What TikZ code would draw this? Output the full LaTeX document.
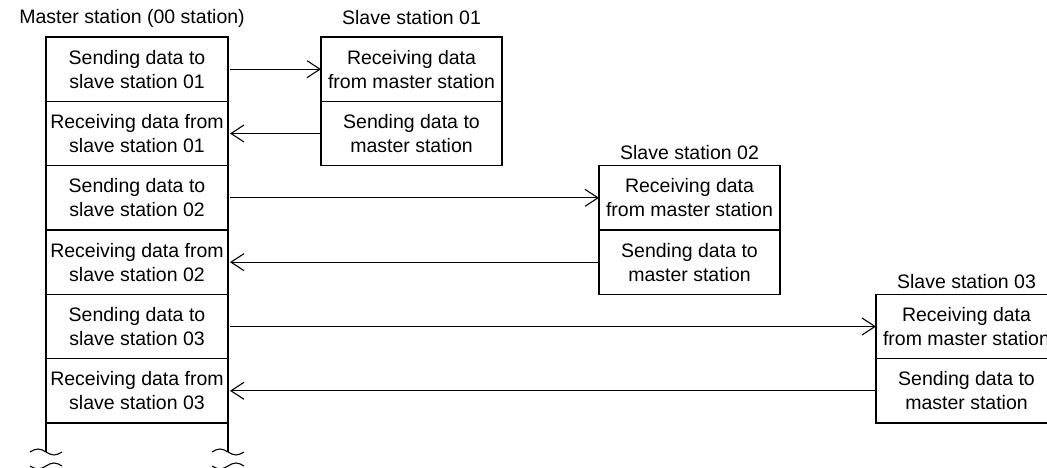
\documentclass[tikz,border=0pt]{standalone}
\usepackage{fontspec}
\setmainfont{Liberation Sans}
\usepackage{tikz}
\usetikzlibrary{arrows.meta,positioning}
\newcommand{\cellfont}{\fontsize{19.5}{24}\selectfont}
\tikzset{
    line color/.style={black},
    cell/.style={draw,line color,line width=1.2pt,rectangle,minimum width=182pt,minimum height=64.33pt,inner sep=0pt,outer sep=0pt,align=center},
    head/.style={inner sep=0pt},
    arr/.style={-{Straight Barb[length=13pt,width=17pt,line width=1.1pt]},line width=1.1pt},
    rarr/.style={{Straight Barb[length=13pt,width=17pt,line width=1.1pt]}-,line width=1.1pt},
    break line/.style={line width=1.1pt},
}
\tikzstyle{every node}=[font=\cellfont]

\begin{document}
\begin{tikzpicture}[x=1pt,y=-1pt]
        \useasboundingbox (0,0) rectangle (1047,468);
        % master column
        \node[head] (mhead) at (132,18) {Master station (00 station)};
        \node[cell] (m1) at (137,69.17) {Sending data to\\slave station 01};
        \node[cell,below=0pt of m1] (m2) {Receiving data from\\slave station 01};
        \node[cell,below=0pt of m2] (m3) {Sending data to\\slave station 02};
        \node[cell,below=0pt of m3] (m4) {Receiving data from\\slave station 02};
        \node[cell,below=0pt of m4] (m5) {Sending data to\\slave station 03};
        \node[cell,below=0pt of m5] (m6) {Receiving data from\\slave station 03};
        % slaves
        \node[head] (s1head) at (411.5,18) {Slave station 01};
        \node[cell,minimum width=181pt] (s1r) at (411.5,69.17) {Receiving data\\from master station};
        \node[cell,minimum width=181pt,below=0pt of s1r] (s1s) {Sending data to\\master station};
        \node[head] (s2head) at (689.5,153) {Slave station 02};
        \node[cell,minimum width=181pt] (s2r) at (689.5,197.83) {Receiving data\\from master station};
        \node[cell,minimum width=181pt,below=0pt of s2r] (s2s) {Sending data to\\master station};
        \node[head] (s3head) at (966.5,282) {Slave station 03};
        \node[cell,minimum width=181pt] (s3r) at (966.5,326.5) {Receiving data\\from master station};
        \node[cell,minimum width=181pt,below=0pt of s3r] (s3s) {Sending data to\\master station};
        % messages
        \draw[arr] ([xshift=2pt]m1.east) -- (m1.east -| s1r.west);
        \draw[rarr] ([xshift=2pt]m2.east) -- (m2.east -| s1s.west);
        \draw[arr] ([xshift=2pt]m3.east) -- (m3.east -| s2r.west);
        \draw[rarr] ([xshift=2pt]m4.east) -- (m4.east -| s2s.west);
        \draw[arr] ([xshift=2pt]m5.east) -- (m5.east -| s3r.west);
        \draw[rarr] ([xshift=2pt]m6.east) -- (m6.east -| s3s.west);
        % continuation with break marks
        \coordinate (bl) at ([yshift=-29pt]m6.south west);
        \coordinate (br) at ([yshift=-29pt]m6.south east);
        \draw[break line] (m6.south west) -- (bl);
        \draw[break line] (m6.south east) -- (br);
        \foreach \c in {bl,br} {
            \draw[break line] ([xshift=-16pt]\c) sin ([xshift=-8pt,yshift=3pt]\c) cos (\c) sin ([xshift=8pt,yshift=-3pt]\c) cos ([xshift=16pt]\c);
            \draw[break line] ([xshift=-16pt,yshift=-14pt]\c) sin ([xshift=-8pt,yshift=-17pt]\c) cos ([yshift=-14pt]\c) sin ([xshift=8pt,yshift=-11pt]\c) cos ([xshift=16pt,yshift=-14pt]\c);
        }
\end{tikzpicture}
\end{document}
